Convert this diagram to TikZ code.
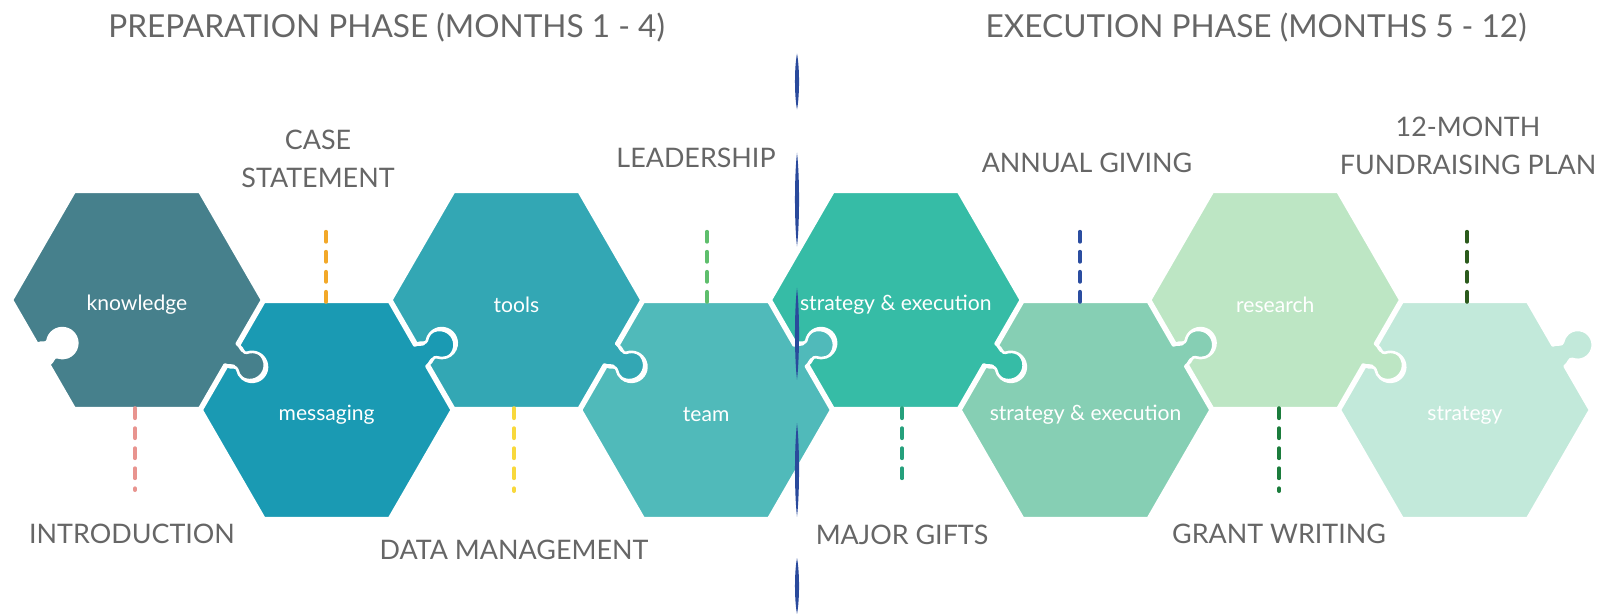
\documentclass[tikz,border=0pt]{standalone}
\usepackage{fontspec}
\setmainfont{Lato}
\usetikzlibrary{calc}

\definecolor{knowcol}{HTML}{46808C}
\definecolor{msgcol}{HTML}{1A9AB3}
\definecolor{toolcol}{HTML}{33A7B4}
\definecolor{teamcol}{HTML}{50BABA}
\definecolor{execcol}{HTML}{36BCA6}
\definecolor{execcolb}{HTML}{86CFB4}
\definecolor{rescol}{HTML}{BDE6C4}
\definecolor{stratcol}{HTML}{C2E9DA}
\definecolor{labelgray}{HTML}{666666}
\definecolor{dividerblue}{HTML}{2A4A9C}
\definecolor{introcol}{HTML}{E8948F}
\definecolor{casecol}{HTML}{F2A829}
\definecolor{datacol}{HTML}{F8D83C}
\definecolor{leadcol}{HTML}{5EBE6C}
\definecolor{givingcol}{HTML}{2B4DA0}
\definecolor{majorcol}{HTML}{25A07C}
\definecolor{grantcol}{HTML}{1B7C3C}
\definecolor{plancol}{HTML}{2B5A1C}

\tikzset{
    piece/.style={draw=white,line width=1.5pt,line join=round},
    hexlabel/.style={text=white,font=\fontsize{12}{15}\selectfont},
    phase/.style={text=labelgray,font=\fontsize{18}{22}\selectfont,anchor=base},
    topic/.style={text=labelgray,font=\fontsize{15.3}{21.5}\selectfont,align=center,inner sep=0pt},
    leader/.style={line width=2.3pt,line cap=round,dash pattern=on 5.6pt off 5.8pt}
}

% knob sticking out of an edge / cut into an edge (edge frame)
\newcommand{\knobout}{-- (108.25,-12) .. controls (113,-12) and (116.2,-6.6) .. (118.76,-9.64)
    arc[start angle=-140,end angle=140,radius=15] .. controls (116.2,6.6) and (113,12) .. (108.25,12)}
\newcommand{\knobin}{-- (108.25,-12) .. controls (103.5,-12) and (100.3,-6.6) .. (97.74,-9.64)
    arc[start angle=-40,end angle=-320,radius=15] .. controls (100.3,6.6) and (103.5,12) .. (108.25,12)}

% pieces: name, centre, colour, text
\newcommand{\toppiece}[4]{%
    \begin{scope}[shift={#2}]
        \filldraw[piece,fill=#3] (125,0) -- (62.5,108.25) -- (-62.5,108.25) -- (-125,0)
            {[rotate=210] \knobin} -- (-62.5,-108.25) -- (62.5,-108.25)
            {[rotate=330] \knobout} -- cycle;
        \coordinate (#1-n) at (0,108.25);
        \coordinate (#1-s) at (0,-108.25);
        \node[hexlabel] (#1) at (0,-5) {#4};
    \end{scope}}
\newcommand{\bottompiece}[4]{%
    \begin{scope}[shift={#2}]
        \filldraw[piece,fill=#3] (125,0) {[rotate=30] \knobout} -- (62.5,108.25) -- (-62.5,108.25)
            {[rotate=150] \knobin} -- (-125,0) -- (-62.5,-108.25) -- (62.5,-108.25) -- cycle;
        \coordinate (#1-n) at (0,108.25);
        \coordinate (#1-s) at (0,-108.25);
        \node[hexlabel] (#1) at (0,-5) {#4};
    \end{scope}}

\begin{document}
\begin{tikzpicture}[x=0.02cm,y=0.02cm]
    \useasboundingbox (0,0) rectangle (1601,-614);

    % Phase titles
    \node[phase] (prep) at (386.5,-37.5) {PREPARATION PHASE (MONTHS 1 - 4)};
    \node[phase] (exec) at (1256,-37.5) {EXECUTION PHASE (MONTHS 5 - 12)};

    % Puzzle pieces
    \toppiece{knowledge}{(137,-300)}{knowcol}{knowledge}
    \bottompiece{messaging}{(326.7,-410)}{msgcol}{messaging}
    \toppiece{tools}{(516.4,-300)}{toolcol}{tools}
    \bottompiece{team}{(706.1,-410)}{teamcol}{team}
    \toppiece{stratexec}{(895.8,-300)}{execcol}{strategy \& execution}
    \bottompiece{stratexecb}{(1085.5,-410)}{execcolb}{strategy \& execution}
    \toppiece{research}{(1275.2,-300)}{rescol}{research}
    \bottompiece{strategy}{(1464.9,-410)}{stratcol}{strategy}

    % Topics
    \node[topic] (intro) at (132,-534) {INTRODUCTION};
    \node[topic] (case) at (318,-159) {CASE\\STATEMENT};
    \node[topic] (data) at (514,-550) {DATA MANAGEMENT};
    \node[topic] (lead) at (696,-158) {LEADERSHIP};
    \node[topic] (giving) at (1087,-163) {ANNUAL GIVING};
    \node[topic] (major) at (902,-535) {MAJOR GIFTS};
    \node[topic] (grant) at (1279,-534) {GRANT WRITING};
    \node[topic] (plan) at (1468,-146) {12-MONTH\\FUNDRAISING PLAN};

    % Leaders
    \coordinate (intro-end) at (135,-490);
    \coordinate (case-end) at (326,-224);
    \coordinate (data-end) at (514,-491);
    \coordinate (lead-end) at (707,-224);
    \coordinate (giving-end) at (1080,-223);
    \coordinate (major-end) at (902,-487);
    \coordinate (grant-end) at (1279,-491);
    \coordinate (plan-end) at (1467,-224);
    \draw[leader,introcol] (intro-end |- knowledge-s) -- (intro-end);
    \draw[leader,casecol] (case-end |- messaging-n) -- (case-end);
    \draw[leader,datacol] (data-end |- tools-s) -- (data-end);
    \draw[leader,leadcol] (lead-end |- team-n) -- (lead-end);
    \draw[leader,givingcol] (giving-end |- stratexecb-n) -- (giving-end);
    \draw[leader,majorcol] (major-end |- stratexec-s) -- (major-end);
    \draw[leader,grantcol] (grant-end |- research-s) -- (grant-end);
    \draw[leader,plancol] (plan-end |- strategy-n) -- (plan-end);

    % Phase divider
    \foreach \a/\b in {53.6/109.5,152.7/246.4,287.8/379.7,423/516.7,558/614}
        \fill[dividerblue] (797,-\a) .. controls (799.7,{-(3*\a+\b)/4}) and (799.7,{-(\a+3*\b)/4}) .. (797,-\b)
            .. controls (794.3,{-(\a+3*\b)/4}) and (794.3,{-(3*\a+\b)/4}) .. cycle;
\end{tikzpicture}
\end{document}
